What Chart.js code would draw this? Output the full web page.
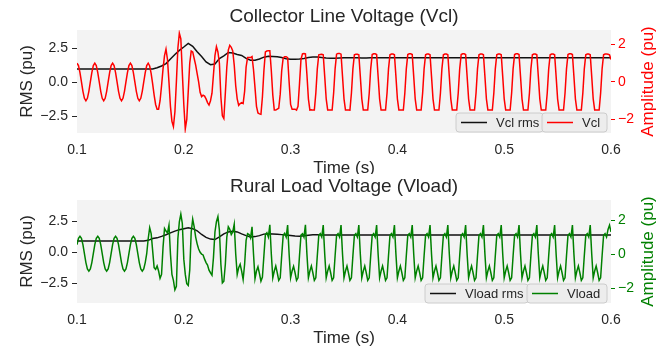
<!DOCTYPE html>
<html>
<head>
<meta charset="utf-8">
<script src="https://cdn.jsdelivr.net/npm/chart.js@4.4.1/dist/chart.umd.min.js"></script>
<style>
  body { margin: 0; background: #fff; }
  #wrap { position: relative; width: 667px; height: 348px; }
  canvas { position: absolute; left: 0; }
</style>
</head>
<body>
<div id="wrap">
  <canvas id="vclChart" width="667" height="174" style="top:0"></canvas>
  <canvas id="vloadChart" width="667" height="174" style="top:174px"></canvas>
</div>
<script>
// sample grid of the traces (simulation output, 0.1 s .. 0.6 s)
const tStart = 0.1;
const waveStep = 1 / 720;
const rmsStep = 1 / 240;

const xTicks = [0.1, 0.2, 0.3, 0.4, 0.5, 0.6];
const rmsTicks = [-2.5, 0, 2.5];
const ampTicks = [-2, 0, 2];

// Collector line voltage, instantaneous (pu)
const vcl = [
  1.0, 0.87, 0.5, 0.0, -0.5, -0.87, -1.0, -0.87, -0.5, 0.0, 0.5, 0.87,
  1.0, 0.87, 0.5, 0.0, -0.5, -0.87, -1.0, -0.87, -0.5, 0.0, 0.5, 0.87,
  1.0, 0.87, 0.5, 0.0, -0.5, -0.87, -1.0, -0.87, -0.5, 0.0, 0.5, 0.87,
  1.0, 0.87, 0.5, 0.0, -0.5, -0.87, -1.0, -0.87, -0.5, 0.0, 0.5, 0.87,
  1.0, 0.85, 0.45, -0.1, -0.7, -1.2, -1.45, -1.45, -1.0, -0.2, 0.7, 1.4,
  1.75, 1.2, 0.0, -1.3, -2.1, -2.38, -1.6, 0.0, 1.8, 2.6, 2.3, 0.5,
  -1.2, -2.5, -2.0, -0.5, 1.0, 1.65, 1.6, 1.25, 0.9, 0.45, 0.0, -0.55,
  -0.78, -0.7, -0.75, -0.9, -1.1, -1.23, -1.0, -0.6, 0.4, 1.4, 1.88, 1.6,
  1.0, -0.8, -1.8, -1.95, -0.6, 0.8, 1.7, 1.95, 1.85, 1.65, 0.9, -0.2,
  -0.9, -1.25, -1.15, -1.1, -1.15, -0.5, 0.8, 1.3, 1.3, 1.3, 1.35, 0.65,
  -0.3, -1.3, -1.65, -1.7, -1.72, -0.8, 0.6, 1.6, 1.65, 1.67, 1.67, 0.6,
  -0.7, -1.5, -1.5, -1.45, -1.4, -0.65, 0.6, 1.28, 1.35, 1.35, 1.3, 0.0,
  -1.2, -1.45, -1.45, -1.45, -1.5, -1.3, -0.1, 1.2, 1.5, 1.52, 1.5, 0.4,
  -0.9, -1.5, -1.48, -1.5, -1.5, -0.6, 0.7, 1.45, 1.47, 1.48, 1.45, 0.3,
  -0.9, -1.5, -1.5, -1.5, -1.5, -0.6, 0.7, 1.48, 1.52, 1.52, 1.48, 0.3,
  -0.9, -1.5, -1.5, -1.49, -1.5, -0.6, 0.7, 1.45, 1.48, 1.48, 1.45, 0.3,
  -0.9, -1.5, -1.5, -1.5, -1.5, -0.6, 0.7, 1.46, 1.5, 1.5, 1.46, 0.3,
  -0.9, -1.5, -1.5, -1.5, -1.5, -0.6, 0.7, 1.45, 1.49, 1.49, 1.45, 0.3,
  -0.9, -1.5, -1.5, -1.5, -1.5, -0.6, 0.7, 1.46, 1.5, 1.5, 1.46, 0.3,
  -0.9, -1.5, -1.5, -1.5, -1.5, -0.6, 0.7, 1.45, 1.49, 1.49, 1.45, 0.3,
  -0.9, -1.5, -1.5, -1.5, -1.5, -0.6, 0.7, 1.45, 1.49, 1.49, 1.45, 0.3,
  -0.9, -1.5, -1.5, -1.5, -1.5, -0.6, 0.7, 1.46, 1.5, 1.5, 1.46, 0.3,
  -0.9, -1.5, -1.5, -1.5, -1.5, -0.6, 0.7, 1.45, 1.49, 1.49, 1.45, 0.3,
  -0.9, -1.5, -1.5, -1.5, -1.5, -0.6, 0.7, 1.45, 1.49, 1.49, 1.45, 0.3,
  -0.9, -1.5, -1.5, -1.5, -1.5, -0.6, 0.7, 1.46, 1.5, 1.5, 1.46, 0.3,
  -0.9, -1.5, -1.5, -1.5, -1.5, -0.6, 0.7, 1.45, 1.49, 1.49, 1.45, 0.3,
  -0.9, -1.5, -1.5, -1.5, -1.5, -0.6, 0.7, 1.45, 1.49, 1.49, 1.45, 0.3,
  -0.9, -1.5, -1.5, -1.5, -1.5, -0.6, 0.7, 1.46, 1.5, 1.5, 1.46, 0.3,
  -0.9, -1.5, -1.5, -1.5, -1.5, -0.6, 0.7, 1.45, 1.49, 1.49, 1.45, 0.3,
  -0.9, -1.5, -1.5, -1.5, -1.5, -0.6, 0.7, 1.45, 1.49, 1.49, 1.48, 1.45,
  1.2
];

// Collector line voltage, rms (pu)
const vclRms = [
  0.98, 0.98, 0.98, 0.98, 0.98, 0.98, 0.98, 0.98, 0.98, 0.98, 0.98, 0.98,
  0.98, 0.98, 0.98, 0.98, 0.98, 0.98,
  1.07, 1.2, 1.38, 1.72, 2.05, 2.35, 2.6, 2.87, 2.65, 2.25, 1.9, 1.5,
  1.3, 1.35, 1.75, 1.95, 2.2, 2.15, 2.05, 1.98, 1.76, 1.62, 1.62, 1.72,
  1.85, 1.92, 1.9, 1.88, 1.82, 1.74, 1.7, 1.7, 1.72, 1.76, 1.82, 1.86,
  1.86, 1.82, 1.79, 1.77,
  1.78, 1.79, 1.8, 1.81, 1.81, 1.8, 1.79, 1.79, 1.8, 1.81, 1.8, 1.8,
  1.8, 1.8, 1.8, 1.8, 1.8, 1.8, 1.8, 1.8, 1.8, 1.8, 1.8, 1.8,
  1.8, 1.8, 1.8, 1.8, 1.8, 1.8, 1.8, 1.8, 1.8, 1.8, 1.8, 1.8,
  1.8, 1.8, 1.8, 1.8, 1.8, 1.8, 1.8, 1.8, 1.8, 1.8, 1.8, 1.8,
  1.8, 1.8, 1.8, 1.8, 1.8, 1.8, 1.8, 1.8, 1.8, 1.8, 1.8, 1.8,
  1.8, 1.8, 1.8
];

// Rural load voltage, instantaneous (pu)
const vload = [
  0.55, 0.93, 1.05, 0.93, 0.55, 0.02, -0.5, -0.87, -1.0, -0.87, -0.5, 0.02,
  0.55, 0.93, 1.05, 0.93, 0.55, 0.02, -0.5, -0.87, -1.0, -0.87, -0.5, 0.02,
  0.55, 0.93, 1.05, 0.93, 0.55, 0.02, -0.5, -0.87, -1.0, -0.87, -0.5, 0.02,
  0.55, 0.93, 1.05, 0.93, 0.55, 0.02, -0.5, -0.87, -1.0, -0.87, -0.5, 0.02,
  0.9, 1.55, 1.2, 0.2, -0.8, -0.9, -0.7, -1.0, -1.43, -1.2, 0.4, 1.5,
  1.35, 1.25, 1.7, 0.0, -1.2, -1.55, -2.1, -1.9, 0.9, 1.9, 2.35, 1.8,
  -0.3, -1.2, -1.75, -1.85, -0.95, 1.3, 2.05, 1.6, 1.0, 0.6, 0.3, 0.1,
  0.0, -0.05, -0.3, -0.5, -0.65, -0.95, -1.1, -1.24, -0.2, 1.3, 1.9, 2.2,
  1.4, -0.6, -1.7, -1.6, -0.6, 1.0, 1.6, 1.45, 1.15, 1.3, 1.75, 0.0,
  -1.2, -0.8, -0.6, -1.0, -1.5, -0.6, 0.8, 1.2, 1.15, 0.95, 1.6, 0.0,
  -1.45, -1.0, -0.75, -1.15, -1.6, -1.35, -0.1, 1.15, 1.25, 1.0, 1.72, 0.0,
  -1.4, -1.0, -0.7, -1.1, -1.55, -1.4, -0.1, 1.1, 1.22, 1.0, 1.7, 0.0,
  -1.4, -1.0, -0.72, -1.1, -1.55, -1.4, -0.1, 1.12, 1.2, 1.0, 1.72, 0.0,
  -1.4, -1.0, -0.7, -1.1, -1.55, -1.4, -0.1, 1.1, 1.2, 1.0, 1.7, 0.0,
  -1.4, -1.0, -0.7, -1.1, -1.55, -1.4, -0.1, 1.1, 1.2, 1.0, 1.7, 0.0,
  -1.4, -1.0, -0.7, -1.1, -1.55, -1.4, -0.1, 1.1, 1.2, 1.0, 1.7, 0.0,
  -1.4, -1.0, -0.7, -1.1, -1.55, -1.4, -0.1, 1.1, 1.2, 1.0, 1.7, 0.0,
  -1.4, -1.0, -0.7, -1.1, -1.55, -1.4, -0.1, 1.1, 1.2, 1.0, 1.7, 0.0,
  -1.4, -1.0, -0.7, -1.1, -1.55, -1.4, -0.1, 1.1, 1.2, 1.0, 1.7, 0.0,
  -1.4, -1.0, -0.7, -1.1, -1.55, -1.4, -0.1, 1.1, 1.2, 1.0, 1.7, 0.0,
  -1.4, -1.0, -0.7, -1.1, -1.55, -1.4, -0.1, 1.1, 1.2, 1.0, 1.7, 0.0,
  -1.4, -1.0, -0.7, -1.1, -1.55, -1.4, -0.1, 1.1, 1.2, 1.0, 1.7, 0.0,
  -1.4, -1.0, -0.7, -1.1, -1.55, -1.4, -0.1, 1.1, 1.2, 1.0, 1.7, 0.0,
  -1.4, -1.0, -0.7, -1.1, -1.55, -1.4, -0.1, 1.1, 1.2, 1.0, 1.7, 0.0,
  -1.4, -1.0, -0.7, -1.1, -1.55, -1.4, -0.1, 1.1, 1.2, 1.0, 1.7, 0.0,
  -1.4, -1.0, -0.7, -1.1, -1.55, -1.4, -0.1, 1.1, 1.2, 1.0, 1.7, 0.0,
  -1.4, -1.0, -0.7, -1.1, -1.55, -1.4, -0.1, 1.1, 1.2, 1.0, 1.7, 0.0,
  -1.4, -1.0, -0.7, -1.1, -1.55, -1.4, -0.1, 1.1, 1.2, 1.0, 1.7, 0.0,
  -1.4, -1.0, -0.7, -1.1, -1.55, -1.4, -0.1, 1.1, 1.2, 1.0, 1.7, 0.0,
  -1.4, -1.0, -0.7, -1.1, -1.55, -1.4, -0.1, 1.1, 1.2, 1.0, 1.45, 1.7,
  1.3
];

// Rural load voltage, rms (pu)
const vloadRms = [
  0.93, 0.93, 0.93, 0.93, 0.93, 0.93, 0.93, 0.93, 0.93, 0.93, 0.93, 0.93,
  0.93, 0.93, 0.93, 0.93,
  0.98, 1.12, 1.18, 1.3, 1.43, 1.58, 1.72, 1.84, 1.92, 2.0, 1.92, 1.75,
  1.45, 1.22, 1.08, 1.04, 1.25, 1.5, 1.66, 1.72, 1.66, 1.5, 1.36, 1.25,
  1.28, 1.36, 1.48, 1.52, 1.5, 1.47, 1.44, 1.41, 1.37, 1.32, 1.3, 1.34,
  1.38, 1.42,
  1.42, 1.41, 1.41, 1.41, 1.41, 1.41, 1.41, 1.41, 1.41, 1.41, 1.41, 1.41,
  1.41, 1.41, 1.41, 1.41, 1.41, 1.41, 1.41, 1.41, 1.41, 1.41, 1.41, 1.41,
  1.41, 1.41, 1.41, 1.41, 1.41, 1.41, 1.41, 1.41, 1.41, 1.41, 1.41, 1.41,
  1.41, 1.41, 1.41, 1.41, 1.41, 1.41, 1.41, 1.41, 1.41, 1.41, 1.41, 1.41,
  1.41, 1.41, 1.41, 1.41, 1.41, 1.41, 1.41, 1.41, 1.41, 1.41, 1.41, 1.41,
  1.41, 1.41, 1.41, 1.41, 1.41, 1.41, 1.41
];

const FONT = "'Liberation Sans', Arial, sans-serif";
const TEXT = '#262626';
const PLOT_BG = '#f3f3f3';

Chart.defaults.font.family = FONT;
Chart.defaults.color = TEXT;

function toXY(values, step) {
  return values.map((v, i) => ({ x: tStart + i * step, y: v }));
}

function minus(s) {
  return String(s).replace('-', '\u2212');
}

// background, title, right axis label (reads upwards like matplotlib) and the two legend boxes
function decoPlugin(cfg) {
  return {
    id: 'deco',
    beforeDraw(chart) {
      const a = chart.chartArea;
      const c = chart.ctx;
      c.save();
      c.fillStyle = PLOT_BG;
      c.fillRect(a.left, a.top, a.right - a.left, a.bottom - a.top);
      c.restore();
    },
    afterDraw(chart) {
      const a = chart.chartArea;
      const c = chart.ctx;
      c.save();
      c.textAlign = 'center';
      c.textBaseline = 'middle';
      c.fillStyle = TEXT;
      c.font = '19px ' + FONT;
      c.fillText(cfg.title, (a.left + a.right) / 2, cfg.titleY);

      c.save();
      c.translate(648, (a.top + a.bottom) / 2);
      c.rotate(-Math.PI / 2);
      c.fillStyle = cfg.color;
      c.font = '17px ' + FONT;
      c.fillText(cfg.rightTitle, 0, 0);
      c.restore();

      c.textAlign = 'left';
      c.font = '13px ' + FONT;
      cfg.legend.forEach(b => {
        const ds = chart.data.datasets[b.ds];
        c.beginPath();
        if (c.roundRect) c.roundRect(b.x, cfg.legendY, b.w, 19, 3);
        else c.rect(b.x, cfg.legendY, b.w, 19);
        c.fillStyle = 'rgba(236,236,236,0.9)';
        c.fill();
        c.strokeStyle = '#cccccc';
        c.lineWidth = 1;
        c.stroke();
        const my = cfg.legendY + 9.5;
        c.beginPath();
        c.moveTo(b.x + 5, my);
        c.lineTo(b.x + 31, my);
        c.strokeStyle = ds.borderColor;
        c.lineWidth = 1.5;
        c.stroke();
        c.fillStyle = TEXT;
        c.fillText(ds.label, b.x + 40, my + 0.5);
      });
      c.restore();
    }
  };
}

function makePanel(canvasId, p) {
  return new Chart(document.getElementById(canvasId), {
    type: 'line',
    data: {
      datasets: [
        {
          label: p.waveLabel,
          data: toXY(p.wave, waveStep),
          yAxisID: 'amp',
          borderColor: p.color,
          borderWidth: 1.5,
          pointRadius: 0,
          tension: 0,
          order: 0
        },
        {
          label: p.rmsLabel,
          data: toXY(p.rms, rmsStep),
          yAxisID: 'rms',
          borderColor: '#111111',
          borderWidth: 1.5,
          pointRadius: 0,
          tension: 0,
          order: 1
        }
      ]
    },
    options: {
      responsive: false,
      devicePixelRatio: 1,
      animation: false,
      layout: { padding: { top: p.padTop, left: 0, right: 0, bottom: 0 } },
      plugins: { legend: { display: false }, tooltip: { enabled: false } },
      scales: {
        x: {
          type: 'linear',
          min: 0.1,
          max: 0.6,
          afterBuildTicks: s => { s.ticks = xTicks.map(v => ({ value: v })); },
          afterFit: s => { s.height = p.xHeight; },
          ticks: { font: { size: 14 }, color: TEXT, padding: 1, maxRotation: 0, autoSkip: false,
                   callback: v => v.toFixed(1) },
          grid: { display: false },
          border: { display: false },
          title: { display: true, text: 'Time (s)', color: TEXT,
                   font: { size: 17, lineHeight: 1 }, padding: { top: 0, bottom: p.xTitlePad } }
        },
        rms: {
          position: 'left',
          min: p.rmsMin,
          max: p.rmsMax,
          afterBuildTicks: s => { s.ticks = rmsTicks.map(v => ({ value: v })); },
          afterFit: s => { s.width = 77; },
          ticks: { font: { size: 14 }, color: TEXT, padding: 4,
                   callback: v => minus(v.toFixed(1)) },
          grid: { drawOnChartArea: false, drawTicks: true, tickLength: 5, tickColor: TEXT, lineWidth: 1 },
          border: { display: false },
          title: { display: true, text: 'RMS (pu)', color: TEXT, font: { size: 17 }, padding: { top: 17 } }
        },
        amp: {
          position: 'right',
          min: p.ampMin,
          max: p.ampMax,
          afterBuildTicks: s => { s.ticks = ampTicks.map(v => ({ value: v })); },
          afterFit: s => { s.width = 56; },
          ticks: { font: { size: 14 }, color: p.color, padding: 3,
                   callback: v => minus(v.toFixed(0)) },
          grid: { drawOnChartArea: false, drawTicks: true, tickLength: 4, tickColor: p.color, lineWidth: 1 },
          border: { display: false }
        }
      }
    },
    plugins: [decoPlugin(p.deco)]
  });
}

makePanel('vclChart', {
  wave: vcl, rms: vclRms, waveLabel: 'Vcl', rmsLabel: 'Vcl rms', color: '#ff0000',
  padTop: 30, xHeight: 41, xTitlePad: -3,
  rmsMin: -3.73, rmsMax: 3.85, ampMin: -2.72, ampMax: 2.77,
  deco: {
    title: 'Collector Line Voltage (Vcl)', titleY: 17, rightTitle: 'Amplitude (pu)', color: '#ff0000',
    legendY: 113, legend: [{ ds: 1, x: 456, w: 87 }, { ds: 0, x: 542, w: 65 }]
  }
});

makePanel('vloadChart', {
  wave: vload, rms: vloadRms, waveLabel: 'Vload', rmsLabel: 'Vload rms', color: '#008000',
  padTop: 26, xHeight: 45, xTitlePad: 1.5,
  rmsMin: -4.07, rmsMax: 4.23, ampMin: -2.88, ampMax: 3.18,
  deco: {
    title: 'Rural Load Voltage (Vload)', titleY: 13, rightTitle: 'Amplitude (pu)', color: '#008000',
    legendY: 110, legend: [{ ds: 1, x: 425, w: 103 }, { ds: 0, x: 527, w: 80 }]
  }
});
</script>
</body>
</html>
